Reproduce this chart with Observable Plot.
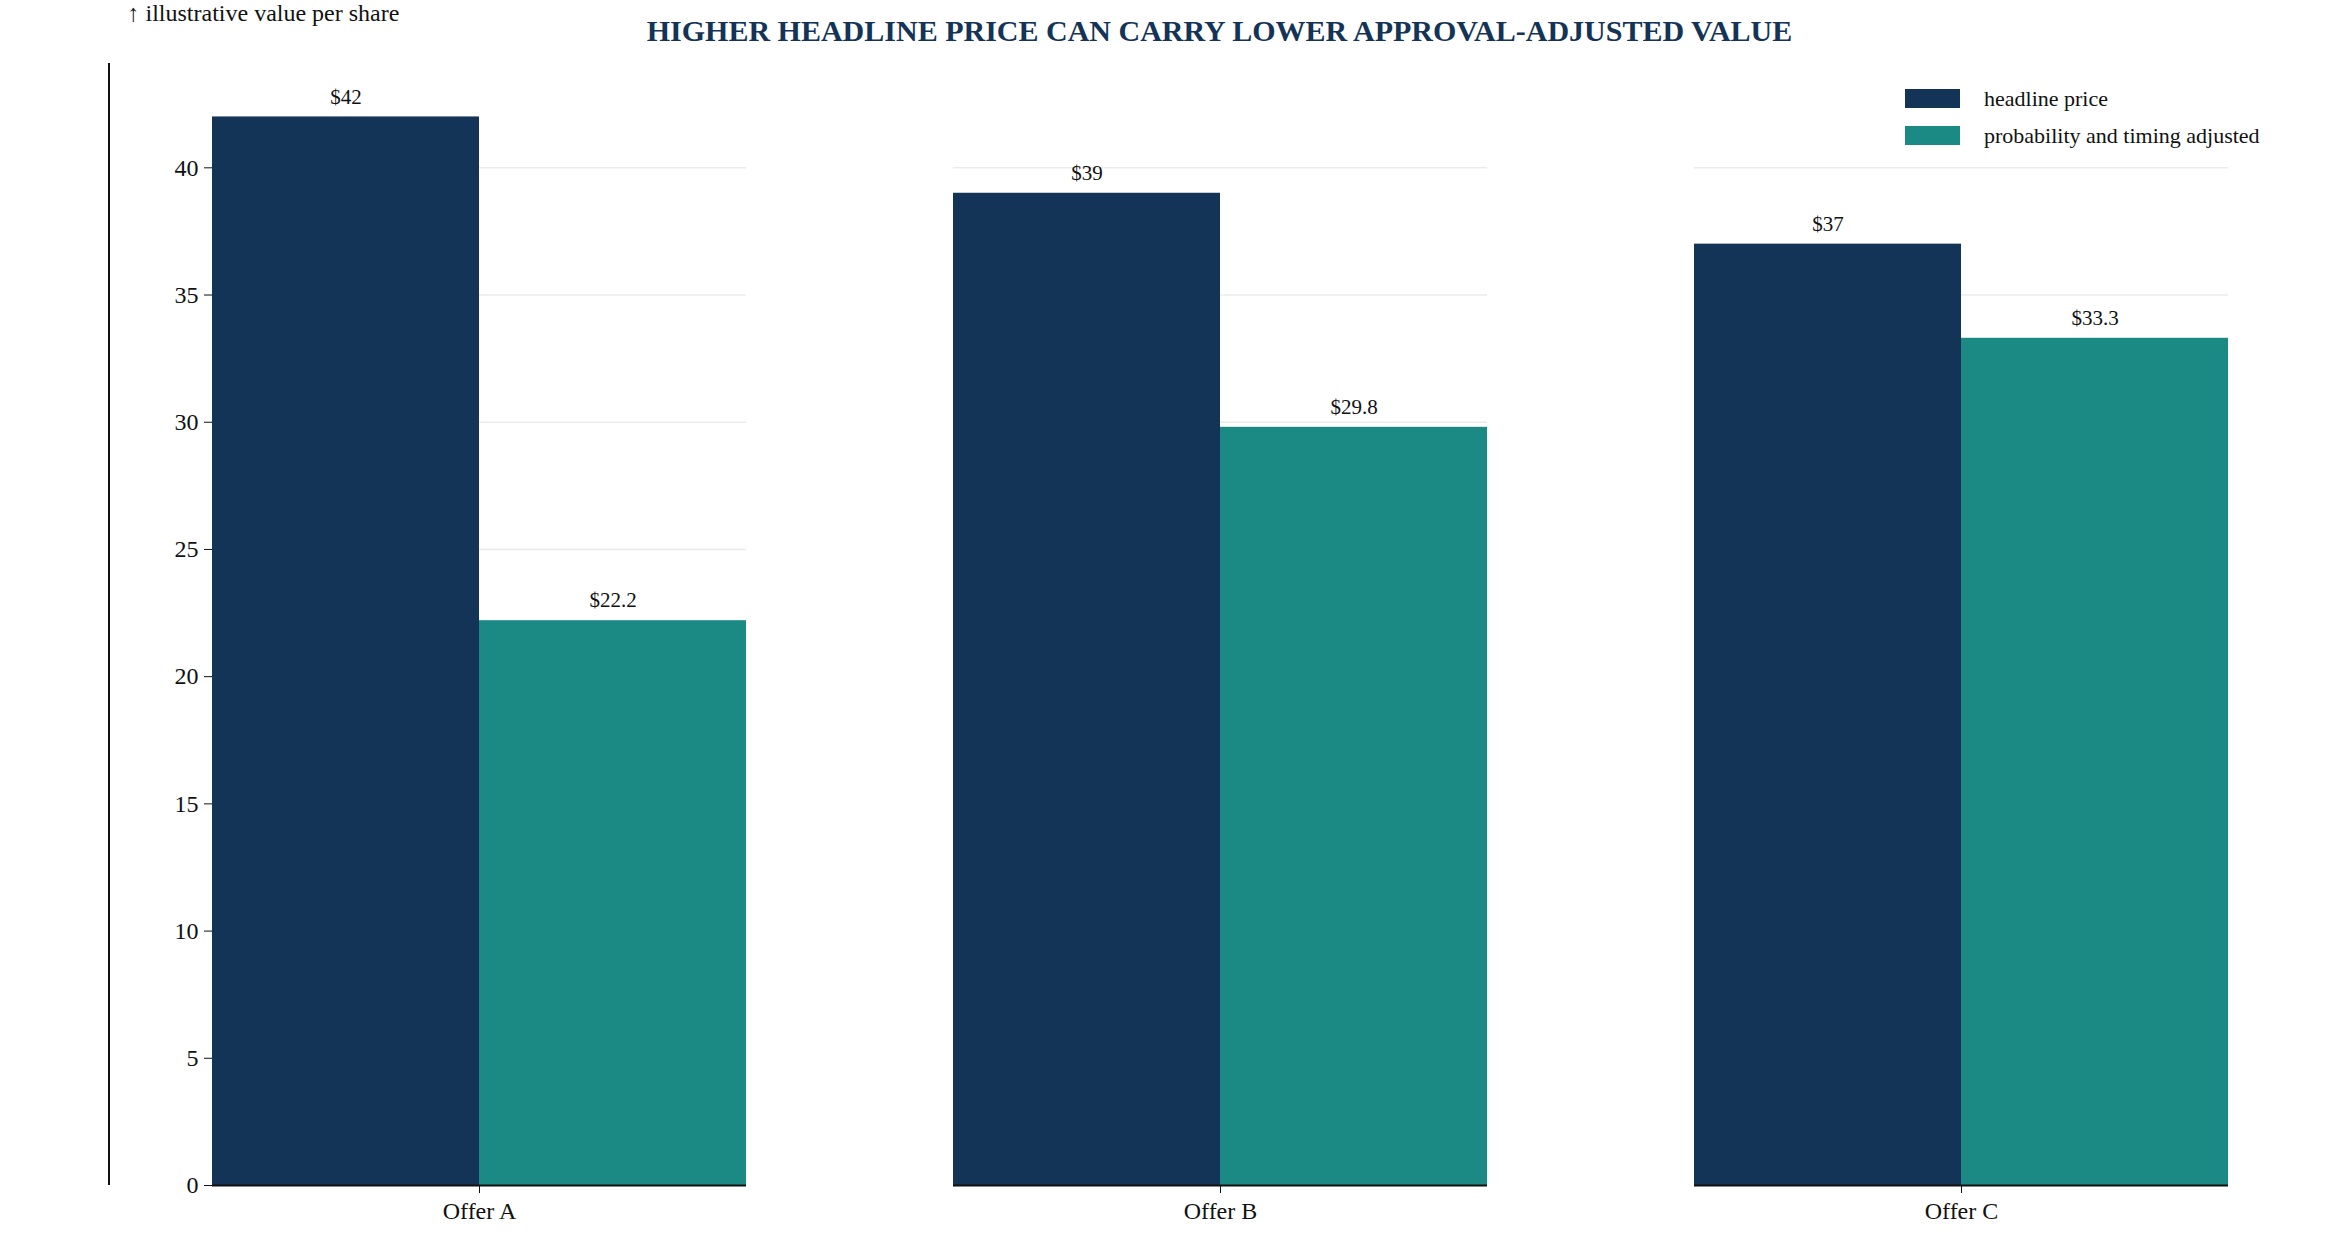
<!DOCTYPE html>
<html><head><meta charset="utf-8">
<script src="https://cdn.jsdelivr.net/npm/d3@7"></script>
<script src="https://cdn.jsdelivr.net/npm/@observablehq/plot@0.6"></script>
<style>
body{margin:0;background:#fff;font-family:"Liberation Serif",serif;}
#wrap{position:relative;width:2349px;height:1254px;}
#title{position:absolute;top:14px;left:109px;width:2221px;text-align:center;font-weight:bold;font-size:30px;color:#143457;}
#legend{position:absolute;top:80px;left:1905px;font-size:22px;color:#111;}
.li{display:flex;align-items:center;height:37px;}
.sw{width:55px;height:19px;margin-right:24px;}
#chart{position:absolute;top:0;left:0;}
</style></head><body>
<div id="wrap"><div id="chart"></div>
<div id="title">HIGHER HEADLINE PRICE CAN CARRY LOWER APPROVAL-ADJUSTED VALUE</div>
<div id="legend"></div></div>
<script>
const offers = ["Offer A","Offer B","Offer C"];
const seriesNames = ["headline price","probability and timing adjusted"];
const headline = [42,39,37];
const adjusted = [22.2,29.8,33.3];
const colors = ["#143457","#1c8a84"];
const yTicks = [0,5,10,15,20,25,30,35,40];

const data = [];
offers.forEach((o,i)=>{
  data.push({offer:o,series:seriesNames[0],value:headline[i],label:"$"+headline[i]});
  data.push({offer:o,series:seriesNames[1],value:adjusted[i],label:"$"+adjusted[i]});
});
const mL=109, mR=19, mT=63, mB=69, W=2349, H=1254;
const plot = Plot.plot({
  width:W,height:H,marginLeft:mL,marginRight:mR,marginTop:mT,marginBottom:mB,
  style:{fontFamily:"Liberation Serif, serif",fontSize:"24px",color:"#111",background:"white"},
  fx:{domain:offers,paddingInner:0.28,paddingOuter:0.138,label:null},
  x:{domain:seriesNames,padding:0,axis:null},
  y:{domain:[0,44.1],ticks:yTicks,label:"illustrative value per share",labelAnchor:"center",labelArrow:"none"},
  color:{domain:seriesNames,range:colors},
  marks:[
    Plot.gridY(yTicks,{stroke:"#ddd",strokeOpacity:0.6,strokeWidth:1.5}),
    Plot.barY(data,{fx:"offer",x:"series",y:"value",fill:"series"}),
    Plot.text(data,{fx:"offer",x:"series",y:"value",text:"label",dy:-20,fontSize:21,fill:"#111"}),
    Plot.axisY({ticks:yTicks,tickSize:8,fontSize:24,label:"illustrative value per share",labelOffset:85,tickPadding:6}),
    Plot.axisFx({anchor:"bottom",tickSize:8,fontSize:24,label:null,tickPadding:8}),
    Plot.ruleY([0],{stroke:"#111",strokeWidth:2})
  ]
});
document.getElementById("chart").appendChild(plot);
d3.select(plot).append("line").attr("x1",mL).attr("x2",mL).attr("y1",mT).attr("y2",H-mB)
  .attr("stroke","#111").attr("stroke-width",2);
const lg=document.getElementById("legend");
seriesNames.forEach((s,i)=>{lg.innerHTML+=`<div class="li"><div class="sw" style="background:${colors[i]}"></div>${s}</div>`;});
</script></body></html>
